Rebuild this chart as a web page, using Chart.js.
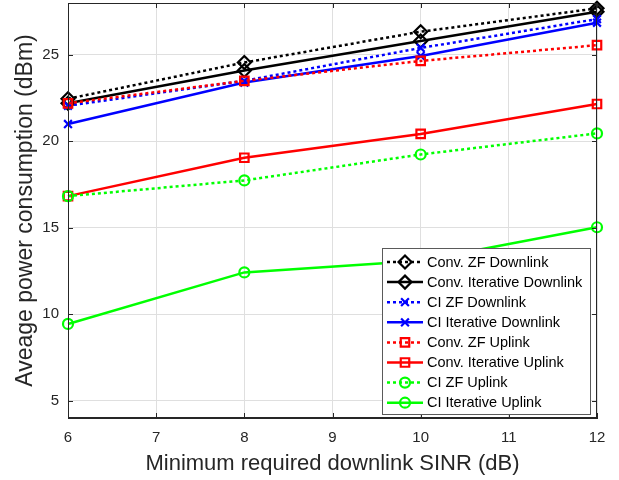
<!DOCTYPE html>
<html>
<head>
<meta charset="utf-8">
<script src="https://cdn.jsdelivr.net/npm/chart.js@4"></script>
<style>
  html, body { margin: 0; padding: 0; background: #fff; }
  #wrap { width: 619px; height: 480px; }
</style>
</head>
<body>
<div id="wrap"><canvas id="myChart" width="619" height="480"></canvas></div>
<script>
// data
const xValues = [6, 8, 10, 12];
const convZfDown = [22.46, 24.56, 26.34, 27.69];
const convIterDown = [22.2, 24.1, 25.8, 27.5];
const ciZfDown = [22.06, 23.5, 25.4, 27.07];
const ciIterDown = [21.0, 23.4, 24.94, 26.86];
const convZfUp = [22.2, 23.5, 24.65, 25.56];
const convIterUp = [16.83, 19.05, 20.43, 22.16];
const ciZfUp = [16.83, 17.74, 19.24, 20.46];
const ciIterUp = [9.44, 12.42, 13.1, 15.03];

const labels = [
  "Conv. ZF Downlink", "Conv. Iterative Downlink",
  "CI ZF Downlink", "CI Iterative Downlink",
  "Conv. ZF Uplink", "Conv. Iterative Uplink",
  "CI ZF Uplink", "CI Iterative Uplink"
];
const series = [convZfDown, convIterDown, ciZfDown, ciIterDown, convZfUp, convIterUp, ciZfUp, ciIterUp];
const colors = ["#000000", "#000000", "#0000ff", "#0000ff", "#ff0000", "#ff0000", "#00ff00", "#00ff00"];
const markers = ["rectRot", "rectRot", "crossRot", "crossRot", "rect", "rect", "circle", "circle"];
const markerSizes = [6.5, 6.5, 5.5, 5.5, 6, 6, 5, 5];
const dotted = [true, false, true, false, true, false, true, false];

const yTicks = [5, 10, 15, 20, 25];
const xTicks = [6, 7, 8, 9, 10, 11, 12];

const axisColor = "#262626";
const gridColor = "#dfdfdf";
const fontFamily = "'Liberation Sans', Arial, sans-serif";

let datasets = series.map((vals, i) => {
  return {
    label: labels[i],
    data: vals.map((v, j) => ({ x: xValues[j], y: v })),
    borderColor: colors[i],
    backgroundColor: colors[i],
    borderWidth: 2.5,
    borderDash: dotted[i] ? [3, 3] : [],
    pointStyle: markers[i],
    pointRadius: markerSizes[i],
    pointBorderWidth: 2.2,
    pointBackgroundColor: "rgba(0,0,0,0)",
    pointBorderColor: colors[i],
    tension: 0,
    clip: false,
    order: 7 - i
  };
});

// box, inward ticks and the legend inside the plot
const matlabLook = {
  id: "matlabLook",
  afterDraw(chart) {
    const c = chart.ctx;
    const a = chart.chartArea;
    const xs = chart.scales.x;
    const ys = chart.scales.y;
    c.save();
    c.strokeStyle = axisColor;
    c.lineWidth = 1;
    c.setLineDash([]);
    c.strokeRect(a.left + 0.5, a.top + 0.5, a.right - a.left - 1, a.bottom - a.top - 1);
    c.beginPath();
    xTicks.forEach((t) => {
      let px = Math.round(xs.getPixelForValue(t)) + 0.5;
      c.moveTo(px, a.bottom); c.lineTo(px, a.bottom - 5);
      c.moveTo(px, a.top); c.lineTo(px, a.top + 5);
    });
    yTicks.forEach((t) => {
      let py = Math.round(ys.getPixelForValue(t)) + 0.5;
      c.moveTo(a.left, py); c.lineTo(a.left + 5, py);
      c.moveTo(a.right, py); c.lineTo(a.right - 5, py);
    });
    c.stroke();

    // legend
    const lx = 382, ly = 248, lw = 208, lh = 166, rowH = 20.1;
    c.fillStyle = "#ffffff";
    c.fillRect(lx, ly, lw, lh);
    c.strokeStyle = "#5a5a5a";
    c.lineWidth = 1;
    c.strokeRect(lx + 0.5, ly + 0.5, lw, lh);
    c.font = "14.5px " + fontFamily;
    c.textBaseline = "middle";
    c.textAlign = "left";
    chart.data.datasets.forEach((ds, i) => {
      let y = ly + 14 + i * rowH;
      c.strokeStyle = ds.borderColor;
      c.lineWidth = 2.5;
      c.setLineDash(ds.borderDash);
      c.beginPath();
      c.moveTo(lx + 5, y);
      c.lineTo(lx + 41, y);
      c.stroke();
      c.setLineDash([]);
      c.lineWidth = 2.2;
      c.fillStyle = "rgba(0,0,0,0)";
      Chart.helpers.drawPoint(c, { pointStyle: ds.pointStyle, radius: ds.pointRadius, borderWidth: 2.2 }, lx + 23, y);
      c.fillStyle = "#000000";
      c.fillText(ds.label, lx + 45, y + 0.5);
    });
    c.restore();
  }
};

const ctx = document.getElementById("myChart");
let chart = new Chart(ctx, {
  type: "line",
  data: { datasets: datasets },
  options: {
    responsive: false,
    animation: false,
    layout: { autoPadding: false, padding: { top: 3, right: 22, left: 0, bottom: 0 } },
    plugins: {
      legend: { display: false },
      tooltip: { enabled: false }
    },
    scales: {
      x: {
        type: "linear",
        min: 6,
        max: 12,
        afterBuildTicks: (scale) => { scale.ticks = xTicks.map((v) => ({ value: v })); },
        afterFit: (scale) => {
          scale.height = 62;
          scale.paddingLeft = 0;
          scale.paddingRight = 0;
        },
        ticks: { color: axisColor, font: { size: 15, family: fontFamily }, padding: 11 },
        grid: { color: gridColor, drawTicks: false },
        border: { display: true, color: axisColor },
        title: {
          display: true,
          text: "Minimum required downlink SINR (dB)",
          color: axisColor,
          font: { size: 22, family: fontFamily },
          padding: { top: 0, bottom: 3 }
        }
      },
      y: {
        type: "linear",
        min: 4,
        max: 28,
        afterBuildTicks: (scale) => { scale.ticks = yTicks.map((v) => ({ value: v })); },
        afterFit: (scale) => {
          scale.width = 68;
          scale.paddingTop = 0;
          scale.paddingBottom = 0;
        },
        ticks: { color: axisColor, font: { size: 15, family: fontFamily }, padding: 9 },
        grid: { color: gridColor, drawTicks: false },
        border: { display: true, color: axisColor },
        title: {
          display: true,
          text: "Aveage power consumption (dBm)",
          color: axisColor,
          font: { size: 23, family: fontFamily },
          padding: { top: 12, bottom: 0 }
        }
      }
    }
  },
  plugins: [matlabLook]
});
</script>
</body>
</html>
